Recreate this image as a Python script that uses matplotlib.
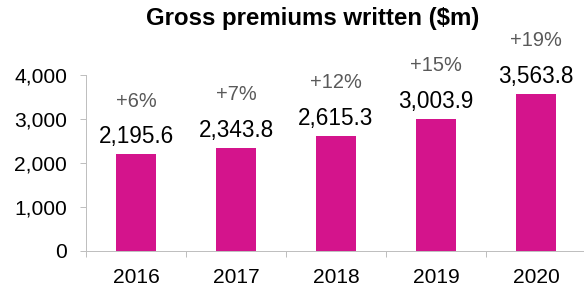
import matplotlib
matplotlib.use("Agg")
import matplotlib.pyplot as plt

years = ["2016", "2017", "2018", "2019", "2020"]
values = [2195.6, 2343.8, 2615.3, 3003.9, 3563.8]
growth = ["+6%", "+7%", "+12%", "+15%", "+19%"]
yticks = [0, 1000, 2000, 3000, 4000]

W, H = 584, 289
DPI = 72
fig = plt.figure(figsize=(W / DPI, H / DPI), dpi=DPI)
plt.rcParams['font.family'] = ['Liberation Sans', 'DejaVu Sans']

ax_l, ax_r = 86, 586
ax_t, ax_b = 74.7, 250.7
ax = fig.add_axes([ax_l / W, (H - ax_b) / H, (ax_r - ax_l) / W, (ax_b - ax_t) / H])

bar_color = "#D4148C"
axis_color = "#BFBFBF"
x = list(range(len(years)))
ax.bar(x, values, width=0.4, color=bar_color, zorder=2)

ax.set_xlim(-0.5, len(years) - 0.5)
ax.set_ylim(0, 4000)
ax.set_yticks(yticks)
ax.set_yticklabels([f"{v:,}" for v in yticks])
ax.set_xticks(x)
ax.set_xticklabels(years)
ax.set_xticks([i - 0.5 for i in range(len(years) + 1)], minor=True)

for s in ["top", "right"]:
    ax.spines[s].set_visible(False)
for s in ["left", "bottom"]:
    ax.spines[s].set_color(axis_color)
    ax.spines[s].set_linewidth(1.0)

ax.tick_params(axis="y", which="major", length=6, width=1.0, color=axis_color,
               labelsize=21, pad=13, labelcolor="black")
ax.tick_params(axis="x", which="major", length=0, labelsize=21, pad=17, labelcolor="black")
ax.tick_params(axis="x", which="minor", length=6, width=1.0, color=axis_color)

for xi, v, g in zip(x, values, growth):
    ax.annotate(f"{v:,.1f}", (xi, v), xytext=(0, 17.5), textcoords="offset points",
                ha="center", va="center", fontsize=22.5, color="black")
    ax.annotate(g, (xi, v), xytext=(0, 53), textcoords="offset points",
                ha="center", va="center", fontsize=20, color="#595959")

fig.text(313 / W, 1 - 18.5 / H, "Gross premiums written ($m)", ha="center", va="center",
         fontsize=24, fontweight="bold", color="black")

fig.savefig("out.png", dpi=DPI, facecolor="white")
